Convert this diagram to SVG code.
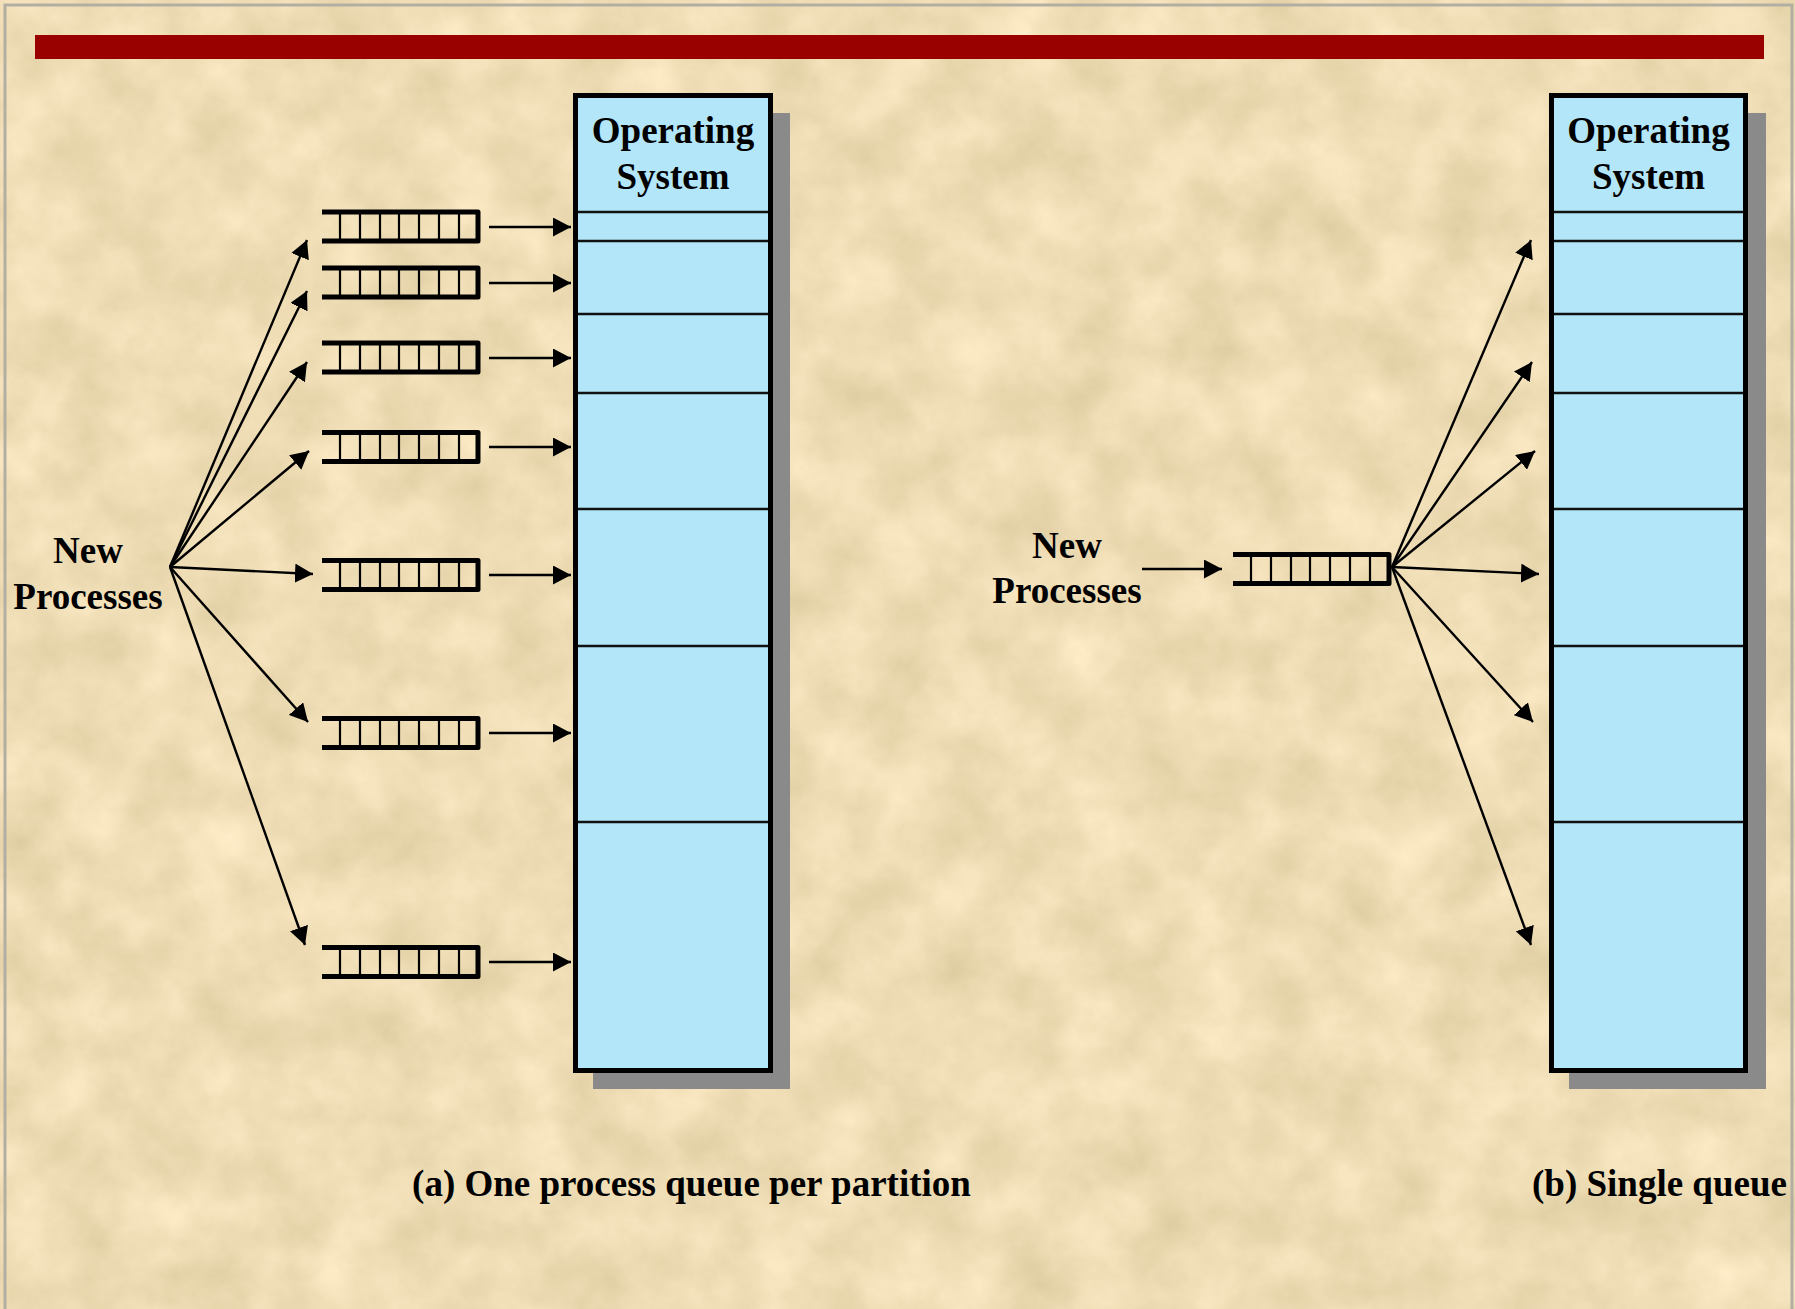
<svg xmlns="http://www.w3.org/2000/svg" width="1795" height="1309" viewBox="0 0 1795 1309">
  <style>
    .lbl { font-family: "Liberation Serif", "Times New Roman", serif; font-weight: bold; font-size: 37px; fill: #000; }
    .box { fill: #b3e6f8; stroke: #000; stroke-width: 5; }
    .shadow { fill: #8a8a8a; }
    .div { stroke: #111; stroke-width: 2.5; }
    .rail { fill: none; stroke: #000; stroke-width: 5; stroke-linejoin: round; }
    .slot { stroke: #000; stroke-width: 2.2; }
    .conn { stroke: #000; stroke-width: 2.4; fill: none; marker-end: url(#ah); }
  </style>
  <defs>
    <marker id="ah" markerUnits="userSpaceOnUse" markerWidth="19" markerHeight="19" refX="18" refY="9.5" orient="auto">
      <path d="M0,0 L18,9.5 L0,19 Z" fill="#000"/>
    </marker>
    <filter id="paper" x="0" y="0" width="1" height="1" color-interpolation-filters="sRGB">
      <feTurbulence type="fractalNoise" baseFrequency="0.016" numOctaves="5" seed="7"/>
      <feColorMatrix type="matrix" values="0.15 0 0 0 0.86  0.15 0 0 0 0.79  0.18 0 0 0 0.62  0 0 0 0 1"/>
    </filter>
    <g id="queue">
      <path class="rail" d="M0,-14.5 H156 V14.5 H0"/>
      <path class="slot" d="M18,-14.5 V14.5 M38,-14.5 V14.5 M58,-14.5 V14.5 M77,-14.5 V14.5 M97,-14.5 V14.5 M117,-14.5 V14.5 M137,-14.5 V14.5"/>
    </g>
  </defs>

  <!-- background -->
  <rect x="0" y="0" width="1795" height="1309" fill="#eedcb5"/>
  <rect x="0" y="0" width="1795" height="1309" filter="url(#paper)"/>
  <rect x="5" y="5" width="1787" height="1330" fill="none" stroke="#b3aea3" stroke-width="3"/>
  <rect x="35" y="35" width="1729" height="24" fill="#990000"/>

  <!-- (a) memory -->
  <g id="memory-a">
    <rect class="shadow" x="593" y="113" width="197" height="976"/>
    <rect class="box" x="575.5" y="95.5" width="195" height="975"/>
    <path class="div" d="M578,212 H768 M578,241 H768 M578,314 H768 M578,393 H768 M578,509 H768 M578,646 H768 M578,822 H768"/>
    <text class="lbl" x="673" y="143" text-anchor="middle">Operating</text>
    <text class="lbl" x="673" y="189" text-anchor="middle">System</text>
  </g>

  <!-- (a) queues -->
  <g id="queue-a1"><use href="#queue" x="322" y="226.5"/></g>
  <g id="queue-a2"><use href="#queue" x="322" y="282.5"/></g>
  <g id="queue-a3"><use href="#queue" x="322" y="357.5"/></g>
  <g id="queue-a4"><use href="#queue" x="322" y="447"/></g>
  <g id="queue-a5"><use href="#queue" x="322" y="575"/></g>
  <g id="queue-a6"><use href="#queue" x="322" y="733"/></g>
  <g id="queue-a7"><use href="#queue" x="322" y="962"/></g>

  <g id="new-processes-a">
    <text class="lbl" x="88" y="563" text-anchor="middle">New</text>
    <text class="lbl" x="88" y="609" text-anchor="middle">Processes</text>
  </g>

  <!-- (b) memory -->
  <g id="memory-b">
    <rect class="shadow" x="1569" y="113" width="197" height="976"/>
    <rect class="box" x="1551.5" y="95.5" width="194" height="975"/>
    <path class="div" d="M1554,212 H1743 M1554,241 H1743 M1554,314 H1743 M1554,393 H1743 M1554,509 H1743 M1554,646 H1743 M1554,822 H1743"/>
    <text class="lbl" x="1648.5" y="143" text-anchor="middle">Operating</text>
    <text class="lbl" x="1648.5" y="189" text-anchor="middle">System</text>
  </g>

  <g id="queue-b"><use href="#queue" x="1233" y="569"/></g>

  <g id="new-processes-b">
    <text class="lbl" x="1067" y="558" text-anchor="middle">New</text>
    <text class="lbl" x="1067" y="603" text-anchor="middle">Processes</text>
  </g>

  <!-- connectors -->
  <g id="connectors">
    <line class="conn" x1="170" y1="567" x2="307" y2="240"/>
    <line class="conn" x1="170" y1="567" x2="307" y2="291"/>
    <line class="conn" x1="170" y1="567" x2="307" y2="362"/>
    <line class="conn" x1="170" y1="567" x2="309" y2="451"/>
    <line class="conn" x1="170" y1="567" x2="313" y2="574"/>
    <line class="conn" x1="170" y1="567" x2="308" y2="722"/>
    <line class="conn" x1="170" y1="567" x2="305" y2="945"/>

    <line class="conn" x1="489" y1="227" x2="571" y2="227"/>
    <line class="conn" x1="489" y1="283" x2="571" y2="283"/>
    <line class="conn" x1="489" y1="358" x2="571" y2="358"/>
    <line class="conn" x1="489" y1="447" x2="571" y2="447"/>
    <line class="conn" x1="489" y1="575" x2="571" y2="575"/>
    <line class="conn" x1="489" y1="733" x2="571" y2="733"/>
    <line class="conn" x1="489" y1="962" x2="571" y2="962"/>

    <line class="conn" x1="1142" y1="569" x2="1222" y2="569"/>

    <line class="conn" x1="1392" y1="567" x2="1531" y2="240"/>
    <line class="conn" x1="1392" y1="567" x2="1532" y2="362"/>
    <line class="conn" x1="1392" y1="567" x2="1535" y2="451"/>
    <line class="conn" x1="1392" y1="567" x2="1539" y2="574"/>
    <line class="conn" x1="1392" y1="567" x2="1533" y2="722"/>
    <line class="conn" x1="1392" y1="567" x2="1531" y2="945"/>
  </g>

  <!-- captions -->
  <text class="lbl" x="691.5" y="1196" text-anchor="middle">(a) One process queue per partition</text>
  <text class="lbl" x="1532" y="1196">(b) Single queue</text>
</svg>
